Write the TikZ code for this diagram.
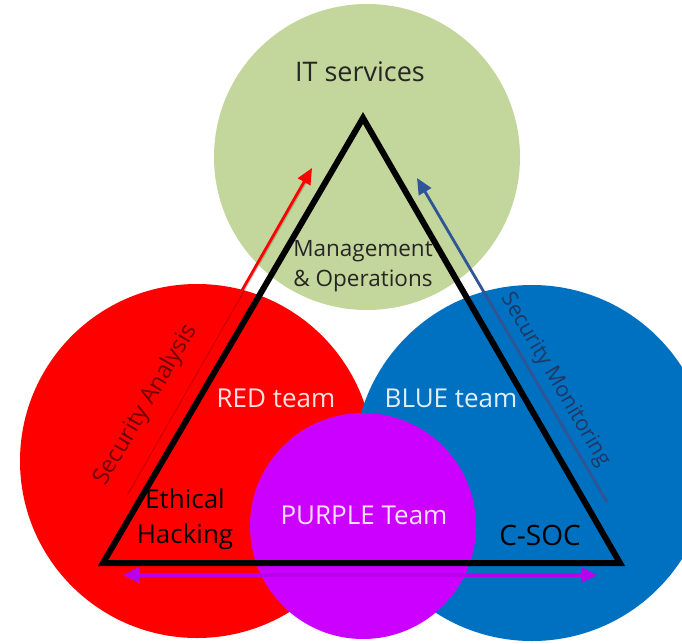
\documentclass[tikz,border=0pt]{standalone}
\usepackage{fontspec}
\setmainfont{Open Sans}
\usetikzlibrary{arrows.meta}
\definecolor{itgreen}{RGB}{195,214,155}
\definecolor{redteam}{RGB}{255,0,0}
\definecolor{blueteam}{RGB}{0,112,192}
\definecolor{purpleteam}{RGB}{204,0,255}
\definecolor{purplearrow}{RGB}{185,0,235}
\definecolor{monblue}{RGB}{47,85,151}
\definecolor{darkred}{RGB}{110,0,0}
\definecolor{darknavy}{RGB}{31,56,100}
\definecolor{txtgray}{RGB}{38,38,38}
\tikzset{
  teamcircle/.style={circle, inner sep=0pt, draw=none},
  bigtxt/.style={font=\fontsize{25}{29}\selectfont, inner sep=0pt},
  midtxt/.style={font=\fontsize{22.5}{30}\selectfont, inner sep=0pt, align=center},
  flowarrow/.style={line width=2.8pt, -{Triangle[length=16pt,width=14pt]}},
  triline/.style={line width=6pt, line join=miter},
}
\begin{document}
\begin{tikzpicture}[x=1pt,y=-1pt]
\useasboundingbox (0,0) rectangle (682,643);
\fill[white] (0,0) rectangle (682,643);
% circles
\node[teamcircle, fill=itgreen, minimum size=306pt] (itc) at (367,157) {};
\node[teamcircle, fill=redteam, minimum size=354pt] (redc) at (197,461) {};
\node[teamcircle, fill=blueteam, minimum size=356pt] (bluec) at (532,463) {};
\node[teamcircle, fill=purpleteam, minimum size=226pt] (purc) at (363,526) {};
% triangle
\coordinate (apex) at (363,118);
\coordinate (bl) at (103,563);
\coordinate (br) at (620,563);
\draw[triline] (apex) -- (bl) -- (br) -- cycle;
% arrows
\coordinate (ra0) at (125,495);
\coordinate (ra1) at (312,168);
\coordinate (ba0) at (607,502);
\coordinate (ba1) at (417,178);
\coordinate (pa0) at (123,575);
\coordinate (pa1) at (597,575);
\draw[line width=2.8pt, black, opacity=0.18, shorten >=16pt] ([xshift=1.5pt]ra0) -- ([xshift=1.5pt]ra1);
\draw[flowarrow, redteam] (ra0) -- (ra1);
\draw[flowarrow, monblue] (ba0) -- (ba1);
\draw[line width=3.6pt, purplearrow, {Triangle[length=16pt,width=15pt]}-{Triangle[length=16pt,width=15pt]}] (pa0) -- (pa1);
% texts
\node[bigtxt, text=txtgray, font=\fontsize{27}{30}\selectfont] (ittxt) at (360,72) {IT services};
\node[midtxt, text=txtgray] (mgmt) at (363,266) {Management\\\& Operations};
\node[bigtxt, text={rgb,255:red,255;green,225;blue,225}, font=\fontsize{26}{30}\selectfont] (redtxt) at (276,398) {RED team};
\node[bigtxt, text={rgb,255:red,225;green,238;blue,250}, font=\fontsize{26}{30}\selectfont] (bluetxt) at (451,398) {BLUE team};
\node[bigtxt, text={rgb,255:red,250;green,225;blue,255}, font=\fontsize{26}{30}\selectfont] (purtxt) at (364,515) {PURPLE Team};
\node[midtxt, text=black, font=\fontsize{26}{35}\selectfont] (eth) at (185,519) {Ethical\\Hacking};
\node[bigtxt, text=black, font=\fontsize{28}{30}\selectfont] (csoc) at (540,535) {C-SOC};
\node[inner sep=0pt, text=darkred, rotate=59.7, font=\fontsize{23.5}{26}\selectfont] (secan) at (146,405) {Security Analysis};
\node[inner sep=0pt, text=darknavy, rotate=-59.7, font=\fontsize{21.5}{26}\selectfont] (secmon) at (555,380) {Security Monitoring};
\end{tikzpicture}
\end{document}
